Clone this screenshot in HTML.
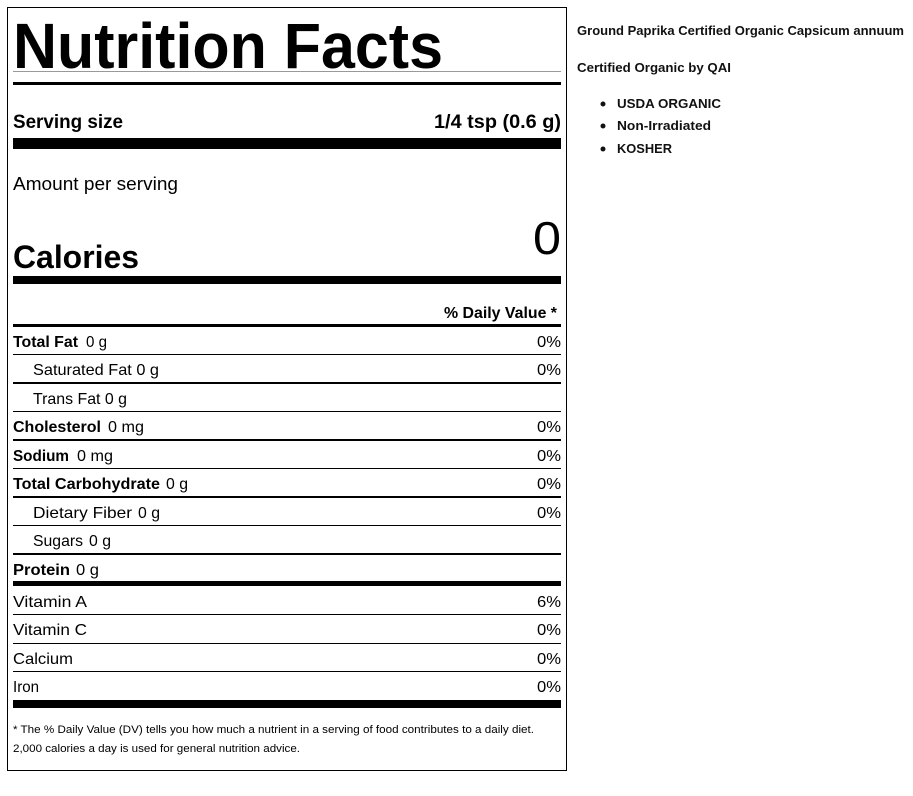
<!DOCTYPE html>
<html><head><meta charset="utf-8"><style>
html,body{margin:0;padding:0;background:#fff;}
svg{display:block;font-family:"Liberation Sans",sans-serif;}
</style></head><body>
<svg width="913" height="796" viewBox="0 0 913 796" xmlns="http://www.w3.org/2000/svg">
<rect x="7.5" y="7.5" width="559" height="763" fill="none" stroke="#000" stroke-width="1"/>
<g fill="#000" lengthAdjust="spacingAndGlyphs">
<text x="13" y="68" font-size="64" font-weight="bold" textLength="430" lengthAdjust="spacingAndGlyphs">Nutrition Facts</text>
<rect x="13" y="71" width="548" height="1" fill="#999"/>
<rect x="13" y="82" width="548" height="3"/>
<text x="13" y="128" font-size="19" font-weight="bold" textLength="110" lengthAdjust="spacingAndGlyphs">Serving size</text>
<text x="434" y="128" font-size="19" font-weight="bold" textLength="127" lengthAdjust="spacingAndGlyphs">1/4 tsp (0.6 g)</text>
<rect x="13" y="138" width="548" height="11"/>
<text x="13" y="190" font-size="18" textLength="165" lengthAdjust="spacingAndGlyphs">Amount per serving</text>
<text x="13" y="268" font-size="32" font-weight="bold" textLength="126" lengthAdjust="spacingAndGlyphs">Calories</text>
<text x="533" y="254" font-size="46" textLength="28" lengthAdjust="spacingAndGlyphs">0</text>
<rect x="13" y="276" width="548" height="8"/>
<text x="444" y="318" font-size="16" font-weight="bold" textLength="113" lengthAdjust="spacingAndGlyphs">% Daily Value *</text>
<rect x="13" y="324" width="548" height="3"/>

<g font-size="16">
<text x="13" y="347" font-weight="bold" textLength="65" lengthAdjust="spacingAndGlyphs">Total Fat</text>
<text x="86" y="347" textLength="21" lengthAdjust="spacingAndGlyphs">0 g</text>
<text x="537" y="347" textLength="24" lengthAdjust="spacingAndGlyphs">0%</text>
<rect x="13" y="354" width="548" height="1"/>

<text x="33" y="375" textLength="126" lengthAdjust="spacingAndGlyphs">Saturated Fat 0 g</text>
<text x="537" y="375" textLength="24" lengthAdjust="spacingAndGlyphs">0%</text>
<rect x="13" y="382" width="548" height="2"/>

<text x="33" y="404" textLength="94" lengthAdjust="spacingAndGlyphs">Trans Fat 0 g</text>
<rect x="13" y="411" width="548" height="1"/>

<text x="13" y="432" font-weight="bold" textLength="88" lengthAdjust="spacingAndGlyphs">Cholesterol</text>
<text x="108" y="432" textLength="36" lengthAdjust="spacingAndGlyphs">0 mg</text>
<text x="537" y="432" textLength="24" lengthAdjust="spacingAndGlyphs">0%</text>
<rect x="13" y="439" width="548" height="2"/>

<text x="13" y="461" font-weight="bold" textLength="56" lengthAdjust="spacingAndGlyphs">Sodium</text>
<text x="77" y="461" textLength="36" lengthAdjust="spacingAndGlyphs">0 mg</text>
<text x="537" y="461" textLength="24" lengthAdjust="spacingAndGlyphs">0%</text>
<rect x="13" y="468" width="548" height="1"/>

<text x="13" y="489" font-weight="bold" textLength="147" lengthAdjust="spacingAndGlyphs">Total Carbohydrate</text>
<text x="166" y="489" textLength="22" lengthAdjust="spacingAndGlyphs">0 g</text>
<text x="537" y="489" textLength="24" lengthAdjust="spacingAndGlyphs">0%</text>
<rect x="13" y="496" width="548" height="2"/>

<text x="33" y="518" textLength="99" lengthAdjust="spacingAndGlyphs">Dietary Fiber</text>
<text x="138" y="518" textLength="22" lengthAdjust="spacingAndGlyphs">0 g</text>
<text x="537" y="518" textLength="24" lengthAdjust="spacingAndGlyphs">0%</text>
<rect x="13" y="525" width="548" height="1"/>

<text x="33" y="546" textLength="50" lengthAdjust="spacingAndGlyphs">Sugars</text>
<text x="89" y="546" textLength="22" lengthAdjust="spacingAndGlyphs">0 g</text>
<rect x="13" y="553" width="548" height="2"/>

<text x="13" y="575" font-weight="bold" textLength="57" lengthAdjust="spacingAndGlyphs">Protein</text>
<text x="76" y="575" textLength="23" lengthAdjust="spacingAndGlyphs">0 g</text>
<rect x="13" y="581" width="548" height="5"/>

<text x="13" y="607" textLength="74" lengthAdjust="spacingAndGlyphs">Vitamin A</text>
<text x="537" y="607" textLength="24" lengthAdjust="spacingAndGlyphs">6%</text>
<rect x="13" y="614" width="548" height="1"/>
<text x="13" y="635" textLength="74" lengthAdjust="spacingAndGlyphs">Vitamin C</text>
<text x="537" y="635" textLength="24" lengthAdjust="spacingAndGlyphs">0%</text>
<rect x="13" y="643" width="548" height="1"/>
<text x="13" y="664" textLength="60" lengthAdjust="spacingAndGlyphs">Calcium</text>
<text x="537" y="664" textLength="24" lengthAdjust="spacingAndGlyphs">0%</text>
<rect x="13" y="671" width="548" height="1"/>
<text x="13" y="692" textLength="26" lengthAdjust="spacingAndGlyphs">Iron</text>
<text x="537" y="692" textLength="24" lengthAdjust="spacingAndGlyphs">0%</text>
<rect x="13" y="700" width="548" height="8"/>
</g>

<text x="13" y="733" font-size="11" textLength="521" lengthAdjust="spacingAndGlyphs">* The % Daily Value (DV) tells you how much a nutrient in a serving of food contributes to a daily diet.</text>
<text x="13" y="752" font-size="11" textLength="287" lengthAdjust="spacingAndGlyphs">2,000 calories a day is used for general nutrition advice.</text>

<g font-size="13" font-weight="bold" fill="#111">
<text x="577" y="35" textLength="327" lengthAdjust="spacingAndGlyphs">Ground Paprika Certified Organic Capsicum annuum</text>
<text x="577" y="72" textLength="154" lengthAdjust="spacingAndGlyphs">Certified Organic by QAI</text>
<circle cx="603" cy="104" r="2.5"/>
<circle cx="603" cy="126" r="2.5"/>
<circle cx="603" cy="149" r="2.5"/>
<text x="617" y="108" textLength="104" lengthAdjust="spacingAndGlyphs">USDA ORGANIC</text>
<text x="617" y="130" textLength="94" lengthAdjust="spacingAndGlyphs">Non-Irradiated</text>
<text x="617" y="153" textLength="55" lengthAdjust="spacingAndGlyphs">KOSHER</text>
</g>
</g>
</svg>
</body></html>
